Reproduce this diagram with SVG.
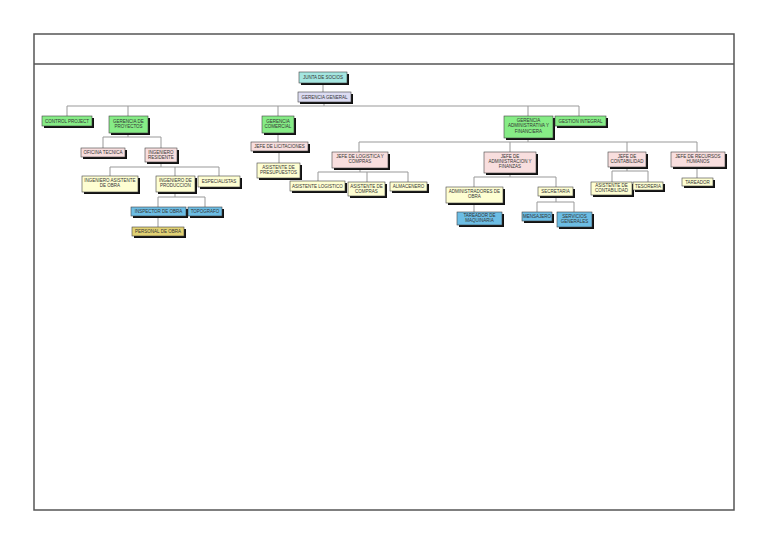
<svg xmlns="http://www.w3.org/2000/svg" width="768" height="543" viewBox="0 0 768 543">
<style>
.sh{fill:#111}
.b{stroke:#444;stroke-width:0.6}
.cy{fill:#a4e6e0}.lv{fill:#dcdcf2}.gr{fill:#86ec86}.pk{fill:#f8dede}.yl{fill:#fefed2}.bl{fill:#6cbde4}.kh{fill:#e2d274}
text{font-family:"Liberation Sans",Arial,sans-serif;font-size:4.5px;fill:#333;text-anchor:middle}
.c line{stroke:#999;stroke-width:1}
</style>
<rect x="0" y="0" width="768" height="543" fill="#fff"/>
<rect x="34" y="34" width="700" height="476" fill="none" stroke="#555" stroke-width="1.5"/>
<line x1="34" y1="64" x2="734" y2="64" stroke="#555" stroke-width="1.5"/>
<g class="c" id="connectors">
<line x1="323" y1="83" x2="323" y2="92"/>
<line x1="324" y1="102" x2="324" y2="106"/>
<line x1="67" y1="106" x2="579" y2="106"/>
<line x1="67" y1="106" x2="67" y2="116"/>
<line x1="128" y1="106" x2="128" y2="116"/>
<line x1="278" y1="106" x2="278" y2="116"/>
<line x1="528" y1="106" x2="528" y2="116"/>
<line x1="579" y1="106" x2="579" y2="116"/>
<line x1="128" y1="133" x2="128" y2="137"/>
<line x1="103" y1="137" x2="161" y2="137"/>
<line x1="103" y1="137" x2="103" y2="148"/>
<line x1="161" y1="137" x2="161" y2="148"/>
<line x1="161" y1="162" x2="161" y2="167"/>
<line x1="110" y1="167" x2="219" y2="167"/>
<line x1="110" y1="167" x2="110" y2="176"/>
<line x1="175" y1="167" x2="175" y2="176"/>
<line x1="219" y1="167" x2="219" y2="176"/>
<line x1="175" y1="192" x2="175" y2="197"/>
<line x1="158" y1="197" x2="205" y2="197"/>
<line x1="158" y1="197" x2="158" y2="207"/>
<line x1="205" y1="197" x2="205" y2="207"/>
<line x1="158" y1="216" x2="158" y2="227"/>
<line x1="278" y1="133" x2="278" y2="142"/>
<line x1="279" y1="151" x2="279" y2="163"/>
<line x1="528" y1="138" x2="528" y2="142"/>
<line x1="359" y1="142" x2="697" y2="142"/>
<line x1="359" y1="142" x2="359" y2="152"/>
<line x1="510" y1="142" x2="510" y2="152"/>
<line x1="627" y1="142" x2="627" y2="152"/>
<line x1="697" y1="142" x2="697" y2="152"/>
<line x1="360" y1="168" x2="360" y2="172"/>
<line x1="318" y1="172" x2="408" y2="172"/>
<line x1="318" y1="172" x2="318" y2="181"/>
<line x1="367" y1="172" x2="367" y2="182"/>
<line x1="408" y1="172" x2="408" y2="182"/>
<line x1="510" y1="173" x2="510" y2="177"/>
<line x1="474" y1="177" x2="556" y2="177"/>
<line x1="474" y1="177" x2="474" y2="187"/>
<line x1="556" y1="177" x2="556" y2="187"/>
<line x1="474" y1="203" x2="474" y2="212"/>
<line x1="556" y1="196" x2="556" y2="202"/>
<line x1="537" y1="202" x2="574" y2="202"/>
<line x1="537" y1="202" x2="537" y2="212"/>
<line x1="574" y1="202" x2="574" y2="212"/>
<line x1="627" y1="167" x2="627" y2="171"/>
<line x1="612" y1="171" x2="648" y2="171"/>
<line x1="612" y1="171" x2="612" y2="182"/>
<line x1="648" y1="171" x2="648" y2="182"/>
<line x1="697" y1="167" x2="697" y2="178"/>
</g>
<g id="junta"><rect class="sh" x="301" y="74" width="48" height="11"/><rect class="b cy" x="299" y="72" width="48" height="11"/><text x="323" y="79.2">JUNTA DE SOCIOS</text></g>
<g id="gg"><rect class="sh" x="300" y="94" width="53" height="10"/><rect class="b lv" x="298" y="92" width="53" height="10"/><text x="324.5" y="98.7">GERENCIA GENERAL</text></g>
<g id="cp"><rect class="sh" x="44" y="118" width="50" height="10"/><rect class="b gr" x="42" y="116" width="50" height="10"/><text x="67" y="122.7">CONTROL PROJECT</text></g>
<g id="gp"><rect class="sh" x="111" y="118" width="39" height="17"/><rect class="b gr" x="109" y="116" width="39" height="17"/><text x="128.5" y="122.5">GERENCIA DE</text><text x="128.5" y="127.6">PROYECTOS</text></g>
<g id="gc"><rect class="sh" x="264" y="118" width="32" height="17"/><rect class="b gr" x="262" y="116" width="32" height="17"/><text x="278" y="122.5">GERENCIA</text><text x="278" y="127.6">COMERCIAL</text></g>
<g id="gaf"><rect class="sh" x="506" y="118" width="49" height="22"/><rect class="b gr" x="504" y="116" width="49" height="22"/><text x="528.5" y="122.3">GERENCIA</text><text x="528.5" y="127.4">ADMINISTRATIVA Y</text><text x="528.5" y="132.5">FINANCIERA</text></g>
<g id="gi"><rect class="sh" x="557" y="118" width="51" height="10"/><rect class="b gr" x="555" y="116" width="51" height="10"/><text x="580.5" y="122.7">GESTION INTEGRAL</text></g>
<g id="ot"><rect class="sh" x="83" y="150" width="44" height="9"/><rect class="b pk" x="81" y="148" width="44" height="9"/><text x="103" y="154.2">OFICINA TECNICA</text></g>
<g id="ir"><rect class="sh" x="147" y="150" width="32" height="14"/><rect class="b pk" x="145" y="148" width="32" height="14"/><text x="161" y="153.5">INGENIERO</text><text x="161" y="158.6">RESIDENTE</text></g>
<g id="iao"><rect class="sh" x="84" y="178" width="56" height="16"/><rect class="b yl" x="82" y="176" width="56" height="16"/><text x="110" y="182.3">INGENIERO ASISTENTE</text><text x="110" y="187.4">DE OBRA</text></g>
<g id="ip"><rect class="sh" x="158" y="178" width="39" height="16"/><rect class="b yl" x="156" y="176" width="39" height="16"/><text x="175.5" y="182.3">INGENIERO DE</text><text x="175.5" y="187.4">PRODUCCION</text></g>
<g id="esp"><rect class="sh" x="200" y="178" width="42" height="11"/><rect class="b yl" x="198" y="176" width="42" height="11"/><text x="219" y="183">ESPECIALISTAS</text></g>
<g id="insp"><rect class="sh" x="133" y="209" width="55" height="9"/><rect class="b bl" x="131" y="207" width="55" height="9"/><text x="158.5" y="213.2">INSPECTOR DE OBRA</text></g>
<g id="topo"><rect class="sh" x="190" y="209" width="34" height="9"/><rect class="b bl" x="188" y="207" width="34" height="9"/><text x="205" y="213.2">TOPOGRAFO</text></g>
<g id="po"><rect class="sh" x="134" y="229" width="52" height="9"/><rect class="b kh" x="132" y="227" width="52" height="9"/><text x="158" y="233.2">PERSONAL DE OBRA</text></g>
<g id="jl"><rect class="sh" x="253" y="144" width="57" height="9"/><rect class="b pk" x="251" y="142" width="57" height="9"/><text x="279.5" y="148.2">JEFE DE LICITACIONES</text></g>
<g id="ap"><rect class="sh" x="259" y="165" width="43" height="15"/><rect class="b yl" x="257" y="163" width="43" height="15"/><text x="278.5" y="169">ASISTENTE DE</text><text x="278.5" y="174.1">PRESUPUESTOS</text></g>
<g id="jlc"><rect class="sh" x="334" y="154" width="56" height="16"/><rect class="b pk" x="332" y="152" width="56" height="16"/><text x="360" y="158.3">JEFE DE LOGISTICA Y</text><text x="360" y="163.4">COMPRAS</text></g>
<g id="al"><rect class="sh" x="292" y="183" width="55" height="10"/><rect class="b yl" x="290" y="181" width="55" height="10"/><text x="317.5" y="187.7">ASISTENTE LOGISTICO</text></g>
<g id="ac"><rect class="sh" x="350" y="184" width="37" height="14"/><rect class="b yl" x="348" y="182" width="37" height="14"/><text x="366.5" y="187.5">ASISTENTE DE</text><text x="366.5" y="192.6">COMPRAS</text></g>
<g id="alm"><rect class="sh" x="392" y="184" width="37" height="9"/><rect class="b yl" x="390" y="182" width="37" height="9"/><text x="408.5" y="188.2">ALMACENERO</text></g>
<g id="jaf"><rect class="sh" x="486" y="154" width="52" height="21"/><rect class="b pk" x="484" y="152" width="52" height="21"/><text x="510" y="158">JEFE DE</text><text x="510" y="163.1">ADMINISTRACION Y</text><text x="510" y="168.2">FINANZAS</text></g>
<g id="ao"><rect class="sh" x="448" y="189" width="57" height="16"/><rect class="b yl" x="446" y="187" width="57" height="16"/><text x="474.5" y="193.3">ADMINISTRADORES DE</text><text x="474.5" y="198.4">OBRA</text></g>
<g id="sec"><rect class="sh" x="540" y="189" width="35" height="9"/><rect class="b yl" x="538" y="187" width="35" height="9"/><text x="555.5" y="193.2">SECRETARIA</text></g>
<g id="tm"><rect class="sh" x="459" y="214" width="45" height="13"/><rect class="b bl" x="457" y="212" width="45" height="13"/><text x="479.5" y="217.3">TAREADOR DE</text><text x="479.5" y="222.4">MAQUINARIA</text></g>
<g id="men"><rect class="sh" x="524" y="214" width="30" height="9"/><rect class="b bl" x="522" y="212" width="30" height="9"/><text x="537" y="218.2">MENSAJERO</text></g>
<g id="sg"><rect class="sh" x="559" y="214" width="35" height="15"/><rect class="b bl" x="557" y="212" width="35" height="15"/><text x="574.5" y="218">SERVICIOS</text><text x="574.5" y="223.1">GENERALES</text></g>
<g id="jc"><rect class="sh" x="610" y="154" width="38" height="15"/><rect class="b pk" x="608" y="152" width="38" height="15"/><text x="627" y="158">JEFE DE</text><text x="627" y="163.1">CONTABILIDAD</text></g>
<g id="adc"><rect class="sh" x="593" y="184" width="41" height="13"/><rect class="b yl" x="591" y="182" width="41" height="13"/><text x="611.5" y="187.3">ASISTENTE DE</text><text x="611.5" y="192.4">CONTABILIDAD</text></g>
<g id="tes"><rect class="sh" x="635" y="184" width="30" height="8"/><rect class="b yl" x="633" y="182" width="30" height="8"/><text x="648" y="187.7">TESORERIA</text></g>
<g id="jrh"><rect class="sh" x="673" y="154" width="54" height="15"/><rect class="b pk" x="671" y="152" width="54" height="15"/><text x="698" y="158">JEFE DE RECURSOS</text><text x="698" y="163.1">HUMANOS</text></g>
<g id="tar"><rect class="sh" x="684" y="180" width="31" height="8"/><rect class="b yl" x="682" y="178" width="31" height="8"/><text x="697.5" y="183.7">TAREADOR</text></g>
</svg>
